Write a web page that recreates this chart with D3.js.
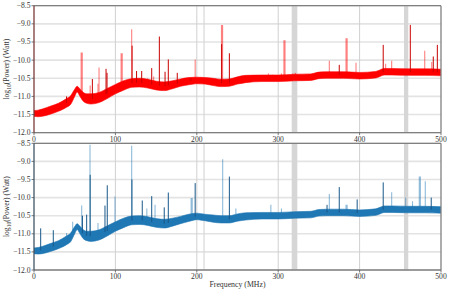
<!DOCTYPE html>
<html><head><meta charset="utf-8">
<script src="https://cdn.jsdelivr.net/npm/d3@7"></script>
<style>body{margin:0;background:#fff}svg{display:block}text{font-family:"Liberation Serif","DejaVu Serif",serif;fill:#333}</style>
</head><body><svg id="c" width="450" height="293"></svg>
<script>
// ---- data ----
const yTicks = [-8.5,-9.0,-9.5,-10.0,-10.5,-11.0,-11.5,-12.0];
const xTicks = [0,100,200,300,400,500];
const grayBands = [[208.2,209.6],[316.6,323.5],[454.5,459.8]];
const baseFreq  = [0,5,10,20,30,40,45,50,53,56,60,65,70,80,90,100,110,120,130,140,150,160,170,180,190,200,210,220,230,240,250,260,280,300,320,340,350,360,380,400,420,425,430,440,460,480,500];
const topCenter = [-11.47,-11.47,-11.45,-11.38,-11.3,-11.18,-11.1,-10.9,-10.8,-10.88,-11.0,-11.06,-11.07,-11.03,-10.92,-10.8,-10.7,-10.63,-10.62,-10.65,-10.7,-10.72,-10.68,-10.62,-10.58,-10.56,-10.57,-10.6,-10.63,-10.62,-10.56,-10.52,-10.5,-10.5,-10.48,-10.47,-10.42,-10.41,-10.41,-10.43,-10.4,-10.36,-10.32,-10.32,-10.33,-10.33,-10.34];
const botCenter = [-11.47,-11.47,-11.45,-11.38,-11.3,-11.18,-11.1,-10.9,-10.8,-10.88,-11.0,-11.06,-11.07,-11.03,-10.92,-10.8,-10.7,-10.63,-10.62,-10.65,-10.7,-10.72,-10.68,-10.62,-10.56,-10.52,-10.55,-10.58,-10.6,-10.6,-10.55,-10.52,-10.5,-10.5,-10.48,-10.47,-10.42,-10.41,-10.41,-10.43,-10.4,-10.36,-10.32,-10.32,-10.33,-10.33,-10.34];
const bandHalf  = [0.08,0.09,0.1,0.11,0.11,0.12,0.12,0.1,0.08,0.1,0.12,0.13,0.14,0.14,0.14,0.13,0.13,0.12,0.12,0.12,0.12,0.12,0.11,0.1,0.1,0.09,0.09,0.1,0.1,0.1,0.1,0.1,0.09,0.09,0.09,0.09,0.09,0.09,0.09,0.09,0.09,0.09,0.09,0.09,0.09,0.09,0.09];
// spikes: [freq MHz, peak log10 W, kind]  d = solid, l = translucent, w = wide translucent
const topSpikes = [[37.5,-11.2,'l'],[40,-11.0,'d'],[58.6,-9.79,'w'],[69,-10.7,'l'],[71.7,-10.52,'d'],[78.6,-10.65,'l'],[79.9,-10.2,'l'],[88.5,-10.24,'d'],[89.7,-10.35,'d'],[107.7,-9.81,'w'],[120,-9.15,'l'],[120.5,-9.6,'d'],[126,-10.3,'d'],[132.3,-10.3,'d'],[139.7,-10.5,'l'],[144.6,-10.22,'d'],[147,-10.45,'l'],[154,-9.35,'d'],[161,-10.32,'d'],[165,-9.98,'d'],[176,-10.35,'d'],[192.7,-10.5,'d'],[198,-9.98,'l'],[231,-9.03,'w'],[230.5,-9.56,'d'],[240,-9.81,'d'],[288,-10.37,'l'],[293.3,-10.4,'l'],[304,-10.37,'l'],[307.7,-9.45,'w'],[318,-10.37,'l'],[321,-10.35,'l'],[362.8,-10.02,'l'],[375,-10.13,'d'],[384,-9.4,'w'],[395.6,-10.07,'l'],[429,-9.58,'d'],[432,-10.1,'l'],[439.4,-10.02,'l'],[462.3,-9.03,'d'],[480,-9.74,'l'],[488.6,-10.05,'l'],[490.5,-9.9,'d'],[495.5,-9.58,'d']];
const botSpikes = [[8.2,-10.85,'d'],[23.7,-10.9,'d'],[40,-10.98,'l'],[47.5,-10.67,'l'],[58.6,-10.22,'l'],[59.5,-10.5,'d'],[64.7,-10.47,'d'],[68.8,-8.54,'l'],[69,-9.37,'d'],[78.6,-10.7,'l'],[87.2,-10.22,'d'],[90,-9.66,'d'],[99.5,-9.97,'l'],[106,-10.6,'l'],[120,-8.57,'l'],[120.3,-9.5,'d'],[133,-10.08,'d'],[138.6,-10.3,'l'],[144.6,-9.96,'d'],[148.7,-10.2,'l'],[160,-10.27,'d'],[165,-9.86,'d'],[193.7,-10.01,'w'],[198,-9.6,'d'],[231.8,-8.94,'l'],[240,-9.42,'d'],[248,-10.3,'l'],[291,-10.2,'l'],[304,-10.3,'l'],[360,-10.2,'d'],[362.8,-9.9,'l'],[375,-9.71,'d'],[384,-10.2,'w'],[397,-10.05,'d'],[429,-9.58,'d'],[439.4,-9.85,'l'],[456.6,-10.0,'l'],[465,-10.1,'l'],[474,-9.42,'w'],[480.7,-9.55,'l'],[488,-10.0,'d']];

// ---- drawing ----
const svg = d3.select('#c');
const x = d3.scaleLinear().domain([0,500]).range([34,441]);
const centerAt = (arr,f)=>{ const i=d3.bisectRight(baseFreq,f); if(i<=0) return arr[0]; if(i>=baseFreq.length) return arr[arr.length-1];
  const t=(f-baseFreq[i-1])/(baseFreq[i]-baseFreq[i-1]); return arr[i-1]+t*(arr[i]-arr[i-1]); };

function panel(y0, y1, center, spikes, col, dark, spineL, showXLabel){
  const y = d3.scaleLinear().domain([-12,-8.5]).range([y1,y0]);
  const g = svg.append('g');
  const clip = 'clip'+Math.round(y0);
  svg.append('clipPath').attr('id',clip).append('rect').attr('x',x(0)).attr('y',y0).attr('width',x(500)-x(0)).attr('height',y1-y0);
  // grid
  g.selectAll('.hg').data(yTicks).join('line').attr('x1',x(0)).attr('x2',x(500)).attr('y1',d=>y(d)).attr('y2',d=>y(d)).attr('stroke','#e3e3e3').attr('stroke-width',1.6);
  g.selectAll('.vg').data(xTicks.slice(1,-1)).join('line').attr('x1',d=>x(d)).attr('x2',d=>x(d)).attr('y1',y0).attr('y2',y1).attr('stroke','#d0d0d0').attr('stroke-width',1);
  g.selectAll('.gb').data(grayBands).join('rect').attr('x',d=>x(d[0])).attr('width',d=>x(d[1])-x(d[0])).attr('y',y0).attr('height',y1-y0).attr('fill','#d6d6d6');
  const dg = g.append('g').attr('clip-path',`url(#${clip})`);
  // translucent spikes
  dg.selectAll('.ls').data(spikes.filter(s=>s[2]!=='d')).join('line')
    .attr('x1',d=>x(d[0])).attr('x2',d=>x(d[0])).attr('y1',d=>y(centerAt(center,d[0]))).attr('y2',d=>y(d[1]))
    .attr('stroke',col).attr('stroke-opacity',0.5).attr('stroke-width',d=>d[2]==='w'?2.2:1.1);
  // noise band
  const area = d3.area().x((d,i)=>x(baseFreq[i])).y0((d,i)=>y(center[i]-bandHalf[i])).y1((d,i)=>y(center[i]+bandHalf[i])).curve(d3.curveMonotoneX);
  dg.append('path').datum(center).attr('d',area).attr('fill',col).attr('stroke',col).attr('stroke-width',0.6);
  // solid spikes
  dg.selectAll('.ds').data(spikes.filter(s=>s[2]==='d')).join('line')
    .attr('x1',d=>x(d[0])).attr('x2',d=>x(d[0])).attr('y1',d=>y(centerAt(center,d[0]))).attr('y2',d=>y(d[1]))
    .attr('stroke',dark).attr('stroke-width',1);
  // spines
  g.append('line').attr('x1',x(0)).attr('x2',x(500)).attr('y1',y0).attr('y2',y0).attr('stroke','#808080').attr('stroke-width',1.3);
  g.append('line').attr('x1',x(0)).attr('x2',x(500)).attr('y1',y1).attr('y2',y1).attr('stroke','#808080').attr('stroke-width',1.3);
  g.append('line').attr('x1',x(500)).attr('x2',x(500)).attr('y1',y0).attr('y2',y1).attr('stroke','#808080').attr('stroke-width',1.3);
  g.append('line').attr('x1',x(0)).attr('x2',x(0)).attr('y1',y0).attr('y2',y1).attr('stroke',spineL).attr('stroke-width',1.3);
  // y ticks
  g.selectAll('.yt').data(yTicks).join('line').attr('x1',x(0)-2.5).attr('x2',x(0)).attr('y1',d=>y(d)).attr('y2',d=>y(d)).attr('stroke','#555').attr('stroke-width',0.8);
  g.selectAll('.yl').data(yTicks).join('text').attr('x',x(0)-3.5).attr('y',d=>y(d)).attr('dy','0.33em').attr('text-anchor','end').attr('font-size',7.6)
    .text(d=>'\u2212'+Math.abs(d).toFixed(1));
  // x ticks
  g.selectAll('.xt').data(xTicks).join('line').attr('x1',d=>x(d)).attr('x2',d=>x(d)).attr('y1',y1).attr('y2',y1+2.5).attr('stroke','#555').attr('stroke-width',0.8);
  g.selectAll('.xl').data(xTicks).join('text').attr('x',d=>x(d)).attr('y',y1+9).attr('text-anchor','middle').attr('font-size',7.6).text(d=>d);
  // y label
  const yl = g.append('text').attr('transform',`translate(9,${(y0+y1)/2}) rotate(-90)`).attr('text-anchor','middle').attr('font-size',7.6);
  yl.append('tspan').text('log');
  yl.append('tspan').attr('font-size',5.5).attr('dy',1.8).text('10');
  yl.append('tspan').attr('dy',-1.8).text('(Power) (Watt)');
  if(showXLabel) g.append('text').attr('x',(x(0)+x(500))/2).attr('y',y1+17).attr('text-anchor','middle').attr('font-size',7.8).text('Frequency (MHz)');
}
panel(5.7,132.7,topCenter,topSpikes,'#ff0000','#c80000','#7a3a3a',false);
panel(143.3,270,botCenter,botSpikes,'#1f77b4','#18588a','#3f5666',true);
</script></body></html>
